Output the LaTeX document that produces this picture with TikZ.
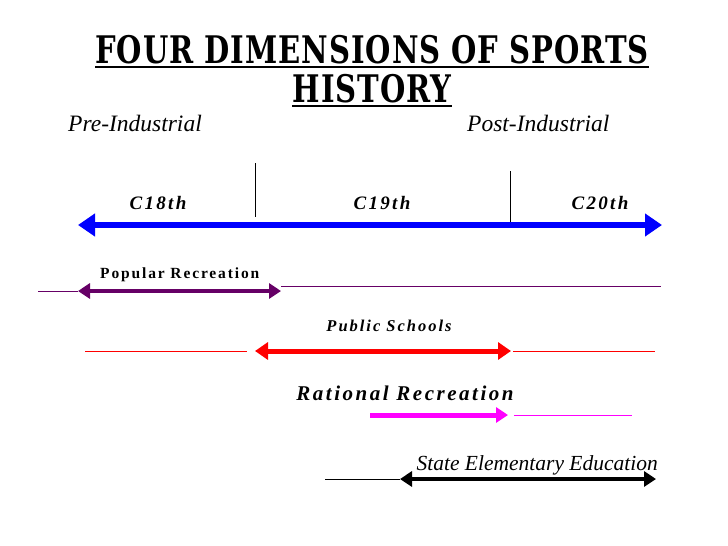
\documentclass[tikz,border=0pt]{standalone}
\usepackage{fontspec}
\setmainfont{Liberation Serif}
\newfontfamily\headfont{DejaVu Serif Condensed}[LetterSpace=3]
\newfontfamily\spacedfont{Liberation Serif}[LetterSpace=12]
\usepackage{tikz}
\usetikzlibrary{arrows.meta, positioning}
\definecolor{mBlue}{HTML}{0000FF}
\definecolor{mPurple}{HTML}{660066}
\definecolor{mRed}{HTML}{FF0000}
\definecolor{mMagenta}{HTML}{FF00FF}

\begin{document}
\begin{tikzpicture}[x=1pt, y=-1pt,
    period/.style={font=\fontsize{23.5}{25}\selectfont\itshape, inner sep=0pt},
    century/.style={font=\fontsize{19}{21}\selectfont\spacedfont\bfseries\itshape, inner sep=0pt},
    strand/.style={inner sep=0pt},
    thinline/.style={line width=0.8pt},
  ]
    \useasboundingbox[fill=white] (0,0) rectangle (728,546);
    % title
    \node[inner sep=0pt, anchor=base] (title1) at (372,63)
      {\scalebox{0.85}[1]{\fontsize{38}{40}\selectfont\headfont\bfseries FOUR DIMENSIONS OF SPORTS}};
    \node[inner sep=0pt, anchor=base] (title2) at (372,102)
      {\scalebox{0.85}[1]{\fontsize{38}{40}\selectfont\headfont\bfseries HISTORY}};
    \draw[line width=1.5pt] ([yshift=-4pt]title1.base west) -- ([yshift=-4pt]title1.base east);
    \draw[line width=1.5pt] ([yshift=-4pt]title2.base west) -- ([yshift=-4pt]title2.base east);
    \node[period, anchor=west] (pre) at (68,123) {Pre-Industrial};
    \node[period, anchor=west] (post) at (467,123) {Post-Industrial};

    % time line
    \coordinate (tl) at (78,225);
    \coordinate (tr) at (662,225);
    \coordinate (d1top) at (255,163);
    \coordinate (d1bot) at (255,217);
    \coordinate (d2top) at (510,171);
    \coordinate (d2bot) at (510,222);
    \draw[thinline] (d1top) -- (d1bot);
    \draw[thinline] (d2top) -- (d2bot);
    \draw[mBlue, line width=6.5pt, {Triangle[length=17pt, width=22pt]}-{Triangle[length=17pt, width=22pt]}] (tl) -- (tr);
    \node[century] (c18) at (158,203) {C18th};
    \node[century] (c19) at (382,203) {C19th};
    \node[century] (c20) at (600,203) {C20th};

    % popular recreation
    \node[strand, anchor=west, font=\fontsize{15.5}{17}\selectfont\spacedfont\bfseries] (popular) at (100,275) {Popular Recreation};
    \coordinate (pl) at (78,291);
    \coordinate (pr) at (281,291);
    \coordinate (pfar) at (38,291);
    \coordinate (pnext) at (281,286);
    \coordinate (pend) at (661,286);
    \draw[mPurple, thinline] (pfar) -- (pl);
    \draw[mPurple, thinline] (pnext) -- (pend);
    \draw[mPurple, line width=4pt, {Triangle[length=12pt, width=15pt]}-{Triangle[length=12pt, width=15pt]}] (pl) -- (pr);

    % public schools
    \node[strand, font=\fontsize{16.5}{18}\selectfont\spacedfont\bfseries\itshape] (public) at (389,326) {Public Schools};
    \coordinate (sl) at (255,351);
    \coordinate (sr) at (511,351);
    \coordinate (sfar) at (85,351);
    \coordinate (snear) at (247,351);
    \coordinate (snext) at (513,351);
    \coordinate (send) at (655,351);
    \draw[mRed, thinline] (sfar) -- (snear);
    \draw[mRed, thinline] (snext) -- (send);
    \draw[mRed, line width=5pt, {Triangle[length=13pt, width=17pt]}-{Triangle[length=13pt, width=17pt]}] (sl) -- (sr);

    % rational recreation
    \node[strand, font=\fontsize{21}{23}\selectfont\spacedfont\bfseries\itshape] (rational) at (405,393) {Rational Recreation};
    \coordinate (rl) at (370,415);
    \coordinate (rr) at (508,415);
    \coordinate (rnext) at (514,415);
    \coordinate (rend) at (632,415);
    \draw[mMagenta, thinline] (rnext) -- (rend);
    \draw[mMagenta, line width=5pt, -{Triangle[length=12pt, width=15pt]}] (rl) -- (rr);

    % state elementary education
    \node[strand, anchor=east, font=\fontsize{21.5}{23}\selectfont\itshape] (state) at (658,465) {State Elementary Education};
    \coordinate (el) at (400,479);
    \coordinate (er) at (656,479);
    \coordinate (efar) at (325,479);
    \draw[thinline] (efar) -- (el);
    \draw[line width=4.5pt, {Triangle[length=12pt, width=15pt]}-{Triangle[length=12pt, width=15pt]}] (el) -- (er);
\end{tikzpicture}
\end{document}
